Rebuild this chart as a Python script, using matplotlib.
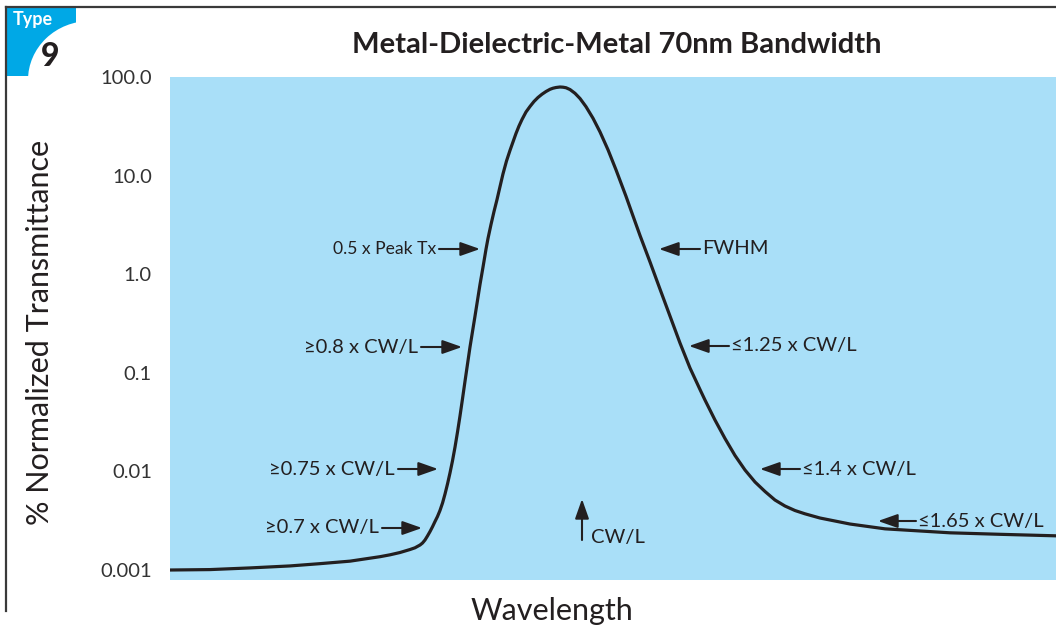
import matplotlib
matplotlib.use("Agg")
import matplotlib.pyplot as plt
from matplotlib.patches import Rectangle, Ellipse, FancyArrowPatch
from matplotlib.lines import Line2D

# ---------------- data ----------------
# wavelength position (arbitrary units, 0-100 across the plot)
wavelength = [0.00, 4.51, 9.03, 13.54, 16.93, 20.32, 23.70, 24.83, 25.96, 27.09,
              27.65, 28.22, 28.50, 28.78, 29.06, 29.35, 29.63, 29.91, 30.19, 30.47,
              30.76, 31.04, 31.32, 31.60, 31.88, 32.17, 32.45, 32.73, 33.01, 33.30,
              33.58, 33.86, 34.42, 34.99, 35.33, 35.67, 35.89, 36.23, 36.57, 36.91,
              37.25, 37.58, 37.98, 38.37, 38.71, 39.05, 39.39, 39.73, 40.18, 40.63,
              41.08, 41.53, 41.99, 42.44, 42.89, 43.23, 43.57, 44.02,
              44.36, 44.70, 45.15, 45.71, 46.28, 46.95, 47.74, 48.53, 49.44, 50.34,
              51.47, 52.26, 53.05, 54.18, 55.30, 56.43, 57.56, 58.69, 59.82, 60.38,
              61.51, 62.64, 63.77, 64.90, 66.03, 67.16, 68.28, 69.41, 70.54, 71.67,
              73.36, 76.75, 80.70, 88.04, 93.68, 100.00]
# % normalized transmittance
transmittance = [0.00100, 0.00101, 0.00105, 0.00110, 0.00116, 0.00123, 0.001365, 0.001426,
                 0.001505, 0.001614, 0.001680, 0.001793, 0.001879, 0.002015, 0.002213,
                 0.002458, 0.002749, 0.003104, 0.003488, 0.004012, 0.004781, 0.005899,
                 0.007452, 0.009634, 0.01275, 0.01768, 0.02509, 0.03646, 0.05423, 0.08254,
                 0.1228, 0.1827, 0.3733, 0.7881, 1.183, 1.801, 2.302, 3.192, 4.324, 5.722,
                 7.755, 10.38, 14.07, 17.97, 21.92, 26.73, 31.84, 37.07, 44.16, 50.22,
                 56.43, 61.97, 66.93, 71.27, 75.04, 76.98, 78.25, 79.18,
                 78.81, 77.80, 74.59, 68.35, 60.46, 50.05, 38.21, 27.78, 18.25, 11.44,
                 6.161, 3.893, 2.469, 1.329, 0.7078, 0.3768, 0.2006, 0.1119, 0.06769,
                 0.05300, 0.03321, 0.02157, 0.01450, 0.01033, 0.007808, 0.006253,
                 0.005128, 0.004457, 0.004012, 0.003715, 0.003368, 0.002927, 0.002616,
                 0.002384, 0.002302, 0.002222]

ytick_values = [100, 10, 1, 0.1, 0.01, 0.001]
ytick_labels = ["100.0", "10.0", "1.0", "0.1", "0.01", "0.001"]

title = "Metal-Dielectric-Metal 70nm Bandwidth"
xlabel = "Wavelength"
ylabel = "% Normalized Transmittance"

left_labels = ["0.5 x Peak Tx", "\u22650.8 x CW/L", "\u22650.75 x CW/L", "\u22650.7 x CW/L"]
right_labels = ["FWHM", "\u22641.25 x CW/L", "\u22641.4 x CW/L", "\u22641.65 x CW/L"]
center_label = "CW/L"

# ---------------- style ----------------
W, H = 1056, 632
FONT = ["Lato", "DejaVu Sans"]
plt.rcParams["font.family"] = FONT
INK = "#231F20"
BG = "#A9DFF8"
BADGE = "#00A8E6"

fig = plt.figure(figsize=(W / 100, H / 100), dpi=100)


def P(px, py):
    return (px / W, 1 - py / H)


ax = fig.add_axes([170 / W, (H - 580) / H, (W - 170) / W, (580 - 77) / H])
ax.set_facecolor(BG)
ax.plot(wavelength, transmittance, color=INK, lw=2.3, solid_capstyle="round",
        solid_joinstyle="round")
ax.set_yscale("log")
ax.set_xlim(0, 100)
ax.set_ylim(0.000792, 100)
ax.set_yticks(ytick_values)
ax.set_yticklabels(ytick_labels)
ax.minorticks_off()
ax.tick_params(axis="y", length=0, pad=13, labelsize=14.5, labelcolor="#333333")
ax.set_xticks([])
for s in ax.spines.values():
    s.set_visible(False)

# frame lines
fig.add_artist(Line2D([6 / W, 1], [1 - 7 / H, 1 - 7 / H], color="#3a3a3a", lw=1.6,
                      transform=fig.transFigure))
fig.add_artist(Line2D([6 / W, 6 / W], [1 - 7 / H, 1 - 611 / H], color="#3a3a3a", lw=1.6,
                      transform=fig.transFigure))

# badge
rect = Rectangle(P(6, 76), 70 / W, 69 / H, transform=fig.transFigure,
                 facecolor=BADGE, edgecolor="none")
fig.add_artist(rect)
ell = Ellipse(P(90, 80), 124 / W, 118 / H, transform=fig.transFigure,
              facecolor="white", edgecolor="none")
fig.add_artist(ell)
ell.set_clip_path(rect)
fig.text(*P(33, 19), "Type", color="white", fontsize=13, fontweight="bold",
         ha="center", va="center")
fig.text(*P(50, 57), "9", color=INK, fontsize=23, fontweight="black",
         ha="center", va="center")

# titles
fig.text(*P(617, 45), title, fontsize=21, fontweight="bold", color=INK,
         ha="center", va="center")
fig.text(*P(40, 332), ylabel, fontsize=22, color=INK, rotation=90,
         ha="center", va="center")
fig.text(*P(552, 611), xlabel, fontsize=22, color=INK, ha="center", va="center")

# annotations
arrow_kw = dict(arrowstyle="-|>,head_length=0.85,head_width=0.3", color=INK, lw=1.5,
                shrinkA=0, shrinkB=0, mutation_scale=14)


def arrow(tail, tip):
    fig.add_artist(FancyArrowPatch(P(*tail), P(*tip), transform=fig.transFigure,
                                   **arrow_kw))


left_pos = [(436, 480, 249, 12.6), (418, 462, 347, 14.5), (395, 438, 469, 14.5),
            (379, 422, 528, 14.5)]
for lab, (tx, tip, y, fs) in zip(left_labels, left_pos):
    fig.text(*P(tx, y), lab, fontsize=fs, color=INK, ha="right", va="center")
    arrow((tx + 3, y), (tip, y))

right_pos = [(700, 659, 249), (729, 689, 346), (800, 760, 469), (916, 878, 521)]
for lab, (tail, tip, y) in zip(right_labels, right_pos):
    fig.text(*P(tail + 2, y), lab, fontsize=14.5, color=INK, ha="left", va="center")
    arrow((tail, y), (tip, y))

arrow((582, 540), (582, 499))
fig.text(*P(591, 537), center_label, fontsize=14.5, color=INK, ha="left", va="center")

fig.savefig("out.png", dpi=100)
